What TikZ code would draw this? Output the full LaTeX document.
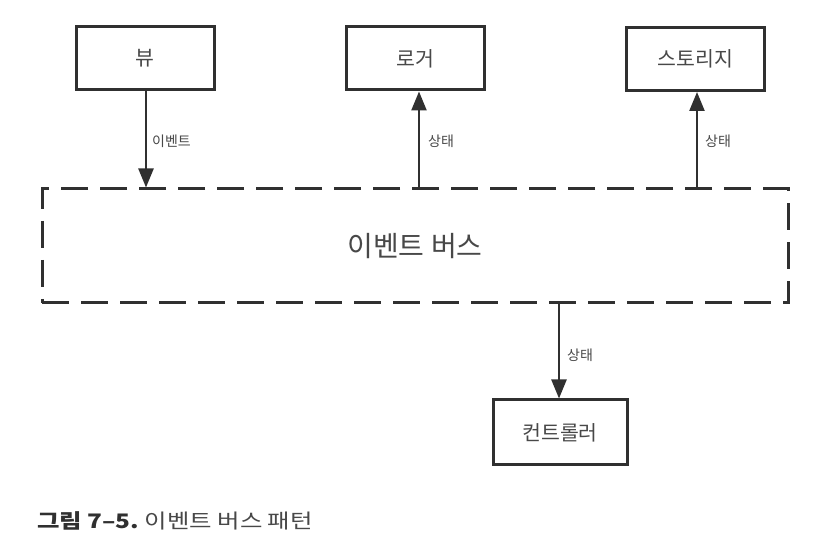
\documentclass[tikz,border=0pt]{standalone}
\usepackage{fontspec}
\setmainfont{Noto Sans CJK KR}
\newfontfamily\capfont[FakeStretch=1.22]{Noto Sans CJK KR}
\usetikzlibrary{arrows.meta}
\definecolor{ink}{HTML}{303030}
\definecolor{txt}{HTML}{484848}
\tikzset{
  box/.style={draw=ink, line width=3pt, fill=white, minimum width=138pt, minimum height=63pt, inner sep=0pt, text=txt, font=\fontsize{20.5}{24}\selectfont},
  bus/.style={draw=ink, line width=3pt, dash pattern=on 27pt off 12pt, minimum width=746pt, minimum height=114pt, inner sep=0pt, text=txt, font=\fontsize{28}{32}\selectfont},
  arr/.style={draw=ink, line width=2.4pt, -{Triangle[length=19pt,width=15pt]}},
  lbl/.style={text=txt, font=\fontsize{14}{16}\selectfont, inner sep=0pt, anchor=west},
}
\begin{document}
\begin{tikzpicture}[x=1pt, y=-1pt]
\useasboundingbox[fill=white] (0,0) rectangle (831,553);
\node[box] (view) at (145,58.5) {뷰};
\node[box] (logger) at (415,58.5) {로거};
\node[box] (storage) at (695.5,59) {스토리지};
\node[bus] (bus) at (415,246) {이벤트 버스};
\node[box, minimum width=134pt, minimum height=65pt] (ctrl) at (560,432.5) {컨트롤러};
\draw[arr] ([xshift=1pt]view.south) -- ([xshift=1pt]view.south |- bus.north);
\draw[arr] ([xshift=4pt]logger.south |- bus.north) -- ([xshift=4pt]logger.south);
\draw[arr] ([xshift=1.5pt]storage.south |- bus.north) -- ([xshift=1.5pt]storage.south);
\draw[arr] ([xshift=-1pt]ctrl.north |- bus.south) -- ([xshift=-1pt]ctrl.north);
\node[lbl] (l1) at (152,141) {이벤트};
\node[lbl] (l2) at (428,141) {상태};
\node[lbl] (l3) at (705,141) {상태};
\node[lbl] (l4) at (567,355) {상태};
\node[anchor=west, inner sep=0pt, text=txt, font=\capfont\fontsize{20}{23}\selectfont] (cap) at (37,521) {\textbf{\color{ink}그림 7–5.}\ 이벤트 버스 패턴};
\end{tikzpicture}
\end{document}
